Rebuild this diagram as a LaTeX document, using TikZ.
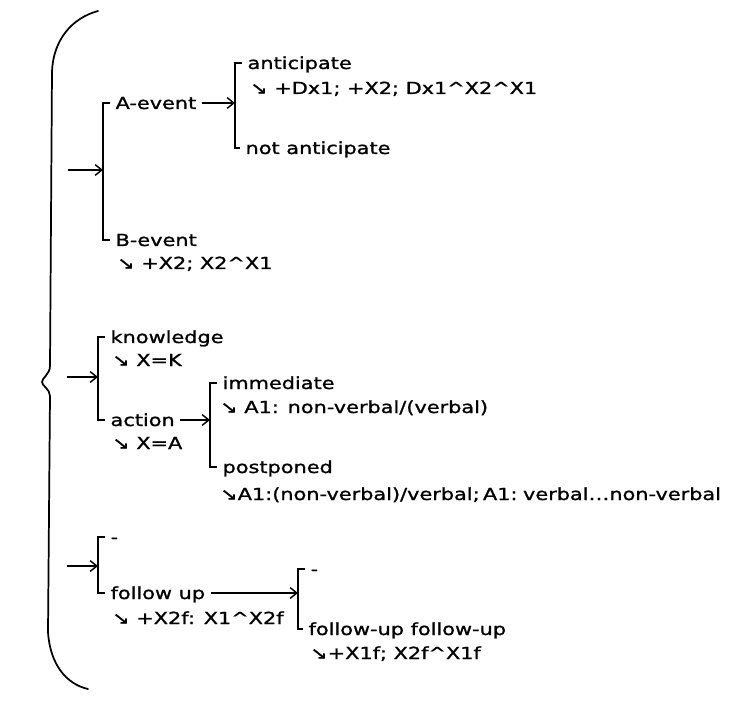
\documentclass[tikz,border=0pt]{standalone}
\usepackage{fontspec}
\newfontfamily\gfont{DejaVu Sans}[FakeStretch=1.25, FakeBold=1.2]
\usetikzlibrary{arrows.meta, calc}

\begin{document}
\begin{tikzpicture}[
  x=0.75pt, y=-0.75pt,
  lbl/.style={anchor=west, inner xsep=4pt, inner ysep=0pt, text height=9pt, text depth=0pt, font=\gfont\fontsize{12.5}{15}\selectfont},
  sub/.style={lbl, inner xsep=0pt},
  brk/.style={line width=1.4pt},
  arr/.style={-{Straight Barb[length=5pt, width=8pt]}, line width=1.1pt},
  brace/.style={line width=1.3pt, line cap=round},
]
  \useasboundingbox (0,0) rectangle (754,713);

  % the big brace
  \draw[brace] (98,11) .. controls (72,18) and (53,40) .. (52,72) -- (50,366)
    .. controls (50,374) and (42,378) .. (42,382)
    .. controls (42,386) and (50,389) .. (50,396) -- (48,632)
    .. controls (50,664) and (66,684) .. (88,689);

  % events
  \node[lbl] (aev) at (110,103) {A-event};
  \node[lbl] (bev) at (110,240) {B-event};
  \node[sub] (bevsub) at (117,263) {↘ +X2; X2\textasciicircum X1};
  \node[lbl] (ant) at (242,63) {anticipate};
  \node[sub] (antsub) at (250,88) {↘ +Dx1; +X2; Dx1\textasciicircum X2\textasciicircum X1};
  \node[lbl] (nant) at (240,148) {not anticipate};
  \coordinate (in1) at (68,170);
  \coordinate (b1) at ([shift={(-7,0)}]aev.west);
  \coordinate (b2) at ([shift={(-7,0)}]ant.west);

  \draw[brk] (aev.west) -- (b1) |- (bev.west);
  \draw[brk] (ant.west) -- (b2) |- (nant.west);
  \draw[arr] (in1) -- (in1 -| b1);
  \draw[arr] (aev.east) -- (aev.east -| b2);

  % knowledge / action
  \node[lbl] (kn) at (105,337) {knowledge};
  \node[sub] (knsub) at (112,360) {↘ X=K};
  \node[lbl] (act) at (105,420) {action};
  \node[sub] (actsub) at (112,443) {↘ X=A};
  \node[lbl] (imm) at (217,383) {immediate};
  \node[sub] (immsub) at (220,407) {↘ A1: non-verbal/(verbal)};
  \node[lbl] (post) at (217,467) {postponed};
  \node[sub] (postsub) at (220,494) {\spaceskip=2.5pt ↘A1:(non-verbal)/verbal; A1: verbal…non-verbal};
  \coordinate (in2) at (67,377);
  \coordinate (b3) at ([shift={(-7,0)}]kn.west);
  \coordinate (b4) at ([shift={(-7,0)}]imm.west);

  \draw[brk] (kn.west) -- (b3) |- (act.west);
  \draw[brk] (imm.west) -- (b4) |- (post.west);
  \draw[arr] (in2) -- (in2 -| b3);
  \draw[arr] (act.east) -- (act.east -| b4);

  % follow up
  \node[lbl] (d1) at (105,537) {-};
  \node[lbl] (fu) at (105,593) {follow up};
  \node[sub] (fusub) at (112,618) {↘ +X2f: X1\textasciicircum X2f};
  \node[lbl] (d2) at (305,569) {-};
  \node[lbl] (fufu) at (303,629) {follow-up follow-up};
  \node[sub] (fufusub) at (310,653) {↘+X1f; X2f\textasciicircum X1f};
  \coordinate (in3) at (67,566);
  \coordinate (b5) at ([shift={(-7,0)}]d1.west);
  \coordinate (b6) at ([shift={(-7,0)}]d2.west);

  \draw[brk] (d1.west) -- (b5) |- (fu.west);
  \draw[brk] (d2.west) -- (b6) |- (fufu.west);
  \draw[arr] (in3) -- (in3 -| b5);
  \draw[arr] (fu.east) -- (fu.east -| b6);
\end{tikzpicture}
\end{document}
